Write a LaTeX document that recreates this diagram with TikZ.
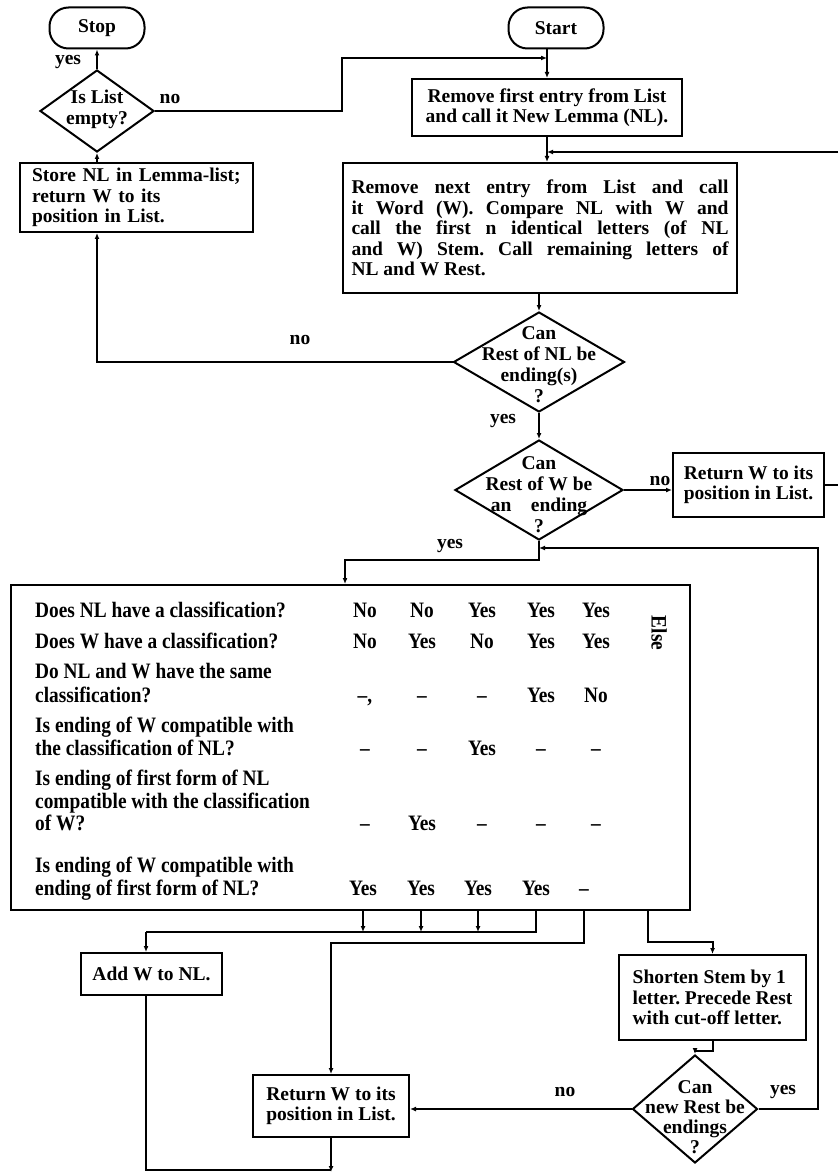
\documentclass[tikz,border=0pt]{standalone}
\usepackage{fontspec}
\setmainfont{Liberation Serif}
\newfontfamily\tabfont[FakeStretch=0.88]{Liberation Serif}
\usetikzlibrary{shapes.geometric,arrows.meta}
\frenchspacing

\begin{document}
\begin{tikzpicture}[x=1pt,y=-1pt,
  every node/.style={font=\bfseries\fontsize{19.5}{20.5}\selectfont},
  line/.style={line width=2pt},
  arr/.style={line, -{Latex[length=6pt,width=5pt]}},
  box/.style={draw, line width=2pt, rectangle, inner sep=0pt},
  term/.style={draw, line width=2pt, rounded corners=19pt, inner sep=0pt,
    minimum width=95pt, minimum height=41pt},
  dia/.style={draw, line width=2pt, diamond, inner sep=0pt},
  dtext/.style={align=center, inner sep=0pt, font=\bfseries\fontsize{19.5}{21}\selectfont},
  lbl/.style={inner sep=0pt},
  cell/.style={font=\tabfont\bfseries\fontsize{22}{23}\selectfont, inner sep=0pt,
    text height=15pt, text depth=4pt},
]
\useasboundingbox (0,0) rectangle (838,1174);

% ---------- terminals ----------
\node[term] (stop) at (97,28) {Stop};
\node[term] (start) at (556,28) {Start};

% ---------- top left: list empty test ----------
\node[dia, minimum width=114pt, minimum height=82pt] (empty) at (97,111) {};
\node[dtext] (emptyT) at (97,109) {Is List\\empty?};
\node[box, minimum width=233pt, minimum height=69pt, align=left, text width=209pt]
  (store) at (136.5,197.5) {Store NL in Lemma-list;\\return W to its\\position in List.};

% ---------- main column ----------
\node[box, minimum width=270pt, minimum height=57pt, align=center]
  (first) at (547,107.5) {Remove first entry from List\\and call it New Lemma (NL).};
\node[box, minimum width=394pt, minimum height=130pt, align=left]
  (next) at (540,228) {\makebox[377pt][s]{Remove next entry from List and call}\\
  \makebox[377pt][s]{it Word (W). Compare NL with W and}\\
  \makebox[377pt][s]{call the first n identical letters (of NL}\\
  \makebox[377pt][s]{and W) Stem. Call remaining letters of}\\
  \makebox[377pt][l]{NL and W Rest.}};

\node[dia, minimum width=171pt, minimum height=100pt] (restnl) at (539,362) {};
\node[dtext] (restnlT) at (539,365) {Can\\Rest of NL be\\ending(s)\\?};

\node[dia, minimum width=168pt, minimum height=100pt] (restw) at (539,490) {};
\node[dtext] (restwT) at (539,495) {Can\\Rest of W be\\an\quad ending\\?};

\node[box, minimum width=151pt, minimum height=64pt, align=center]
  (retr) at (748.5,485) {Return W to its\\position in List.};

% ---------- decision table ----------
\node[box, minimum width=679pt, minimum height=325pt] (table) at (350.5,747.5) {};

\node[cell, anchor=west] (q1)  at (35,612) {Does NL have a classification?};
\node[cell, anchor=west] (q2)  at (35,643) {Does W have a classification?};
\node[cell, anchor=west] (q3a) at (35,673) {Do NL and W have the same};
\node[cell, anchor=west] (q3b) at (35,697) {classification?};
\node[cell, anchor=west] (q4a) at (35,727) {Is ending of W compatible with};
\node[cell, anchor=west] (q4b) at (35,750) {the classification of NL?};
\node[cell, anchor=west] (q5a) at (35,780) {Is ending of first form of NL};
\node[cell, anchor=west] (q5b) at (35,803) {compatible with the classification};
\node[cell, anchor=west] (q5c) at (35,825) {of W?};
\node[cell, anchor=west] (q6a) at (35,867) {Is ending of W compatible with};
\node[cell, anchor=west] (q6b) at (35,890) {ending of first form of NL?};

\foreach \t/\x [count=\i] in {No/365,No/422,Yes/482,Yes/541,Yes/596}
  \node[cell] (r1c\i) at (\x,612) {\t};
\foreach \t/\x [count=\i] in {No/365,Yes/422,No/482,Yes/541,Yes/596}
  \node[cell] (r2c\i) at (\x,643) {\t};
\node[cell] (r3c1) at (365,697) {–,};
\foreach \t/\x [count=\i from 2] in {–/422,–/482,Yes/541,No/596}
  \node[cell] (r3c\i) at (\x,697) {\t};
\foreach \t/\x [count=\i] in {–/365,–/422,Yes/482,–/541,–/596}
  \node[cell] (r4c\i) at (\x,750) {\t};
\foreach \t/\x [count=\i] in {–/365,Yes/422,–/482,–/541,–/596}
  \node[cell] (r5c\i) at (\x,825) {\t};
\foreach \t/\x [count=\i] in {Yes/363,Yes/421,Yes/478,Yes/536,–/584}
  \node[cell] (r6c\i) at (\x,890) {\t};
\node[cell, rotate=-90] (else) at (657,633) {Else};

% ---------- lower boxes ----------
\node[box, minimum width=141pt, minimum height=42pt] (addw) at (151.5,974) {Add W to NL.};
\node[box, minimum width=187pt, minimum height=85pt, align=left]
  (shorten) at (712.5,997.5) {Shorten Stem by 1\\letter. Precede Rest\\with cut-off letter.};
\node[dia, minimum width=125pt, minimum height=108pt] (newrest) at (695,1109) {};
\node[dtext, font=\bfseries\fontsize{19.5}{20}\selectfont] (newrestT) at (695,1117)
  {Can\\new Rest be\\endings\\?};
\node[box, minimum width=156pt, minimum height=62pt, align=center]
  (retb) at (331,1106) {Return W to its\\position in List.};

% ---------- junction points ----------
\coordinate (jno)   at (342,58);
\coordinate (fedge) at (838,152);
\coordinate (redge) at (838,485);
\coordinate (jyes)  at (345,560);
\coordinate (jloop) at (818,548);
\coordinate (jadd)  at (146,932);
\coordinate (jret)  at (331,943);
\coordinate (jelse) at (648,942);
\coordinate (jbot)  at (146,1170);
\coordinate (bedge) at (331,1172);

% ---------- connectors ----------
\draw[arr] (empty.north) -- (stop.south);
\draw[arr] (empty.east) -| (jno) -- (first.north |- jno);
\draw[arr] (first.north |- start.south) -- (first.north);
\draw[arr] (first.south) -- (first.south |- next.north);
\draw[arr] (fedge) -- (first.south |- fedge);
\draw[arr] (empty.south |- store.north) -- (empty.south);
\draw[arr] (restnl.north |- next.south) -- (restnl.north);
\draw[arr] (restnl.west) -| (empty.south |- store.south);
\draw[arr] (restnl.south) -- (restw.north);
\draw[arr] (restw.east) -- (retr.west |- restw.east);
\draw[line] (retr.east) -- (redge);
\draw[arr] (restw.south) |- (jyes) -- (jyes |- table.north);

\draw[line] (r6c4 |- table.south) |- (jadd);
\draw[arr] (jadd) -- (jadd |- addw.north);
\draw[arr] (r6c1 |- table.south) -- (r6c1 |- jadd);
\draw[arr] (r6c2 |- table.south) -- (r6c2 |- jadd);
\draw[arr] (r6c3 |- table.south) -- (r6c3 |- jadd);
\draw[arr] (r6c5 |- table.south) |- (jret) -- (jret |- retb.north);
\draw[arr] (jelse |- table.south) -- (jelse) -| (shorten.north);

\draw[arr] (shorten.south) -- ++(0,10) -| (newrest.north);
\draw[arr] (newrest.west) -- (retb.east |- newrest.west);
\draw[arr] (newrest.east) -| (jloop) -- (restw.south |- jloop);
\draw[line] (jadd |- addw.south) -- (jbot) -- (retb.south |- jbot);
\draw[arr] (retb.south) -- (bedge);

% ---------- branch labels ----------
\node[lbl] (l1) at (68,62) {yes};
\node[lbl] (l2) at (170,99) {no};
\node[lbl] (l3) at (300,340) {no};
\node[lbl] (l4) at (503,421) {yes};
\node[lbl] (l5) at (660,481) {no};
\node[lbl] (l6) at (450,546) {yes};
\node[lbl] (l7) at (565,1092) {no};
\node[lbl] (l8) at (783,1092) {yes};
\end{tikzpicture}
\end{document}
